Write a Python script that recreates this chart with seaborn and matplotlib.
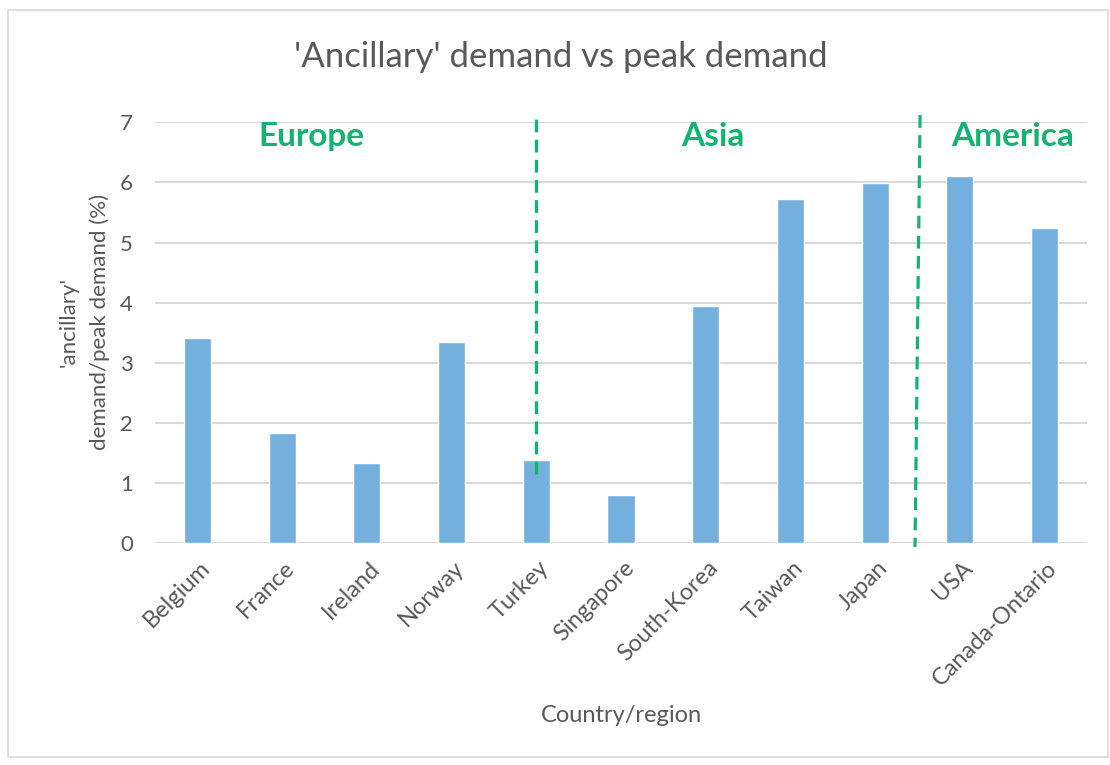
import matplotlib
matplotlib.use("Agg")
import matplotlib.pyplot as plt
import matplotlib.transforms as mtransforms
import seaborn as sns
import pandas as pd
from matplotlib.patches import Rectangle

categories = ["Belgium", "France", "Ireland", "Norway", "Turkey", "Singapore",
              "South-Korea", "Taiwan", "Japan", "USA", "Canada-Ontario"]
values = [3.41, 1.83, 1.34, 3.34, 1.39, 0.80, 3.94, 5.72, 5.99, 6.10, 5.25]
regions = ["Europe", "Asia", "America"]
yticks = [0, 1, 2, 3, 4, 5, 6, 7]

sns.set_theme(style="white")
plt.rcParams['font.family'] = ['Lato', 'DejaVu Sans']

df = pd.DataFrame({"country": categories, "value": values})

fig = plt.figure(figsize=(11.1, 7.65), dpi=100)
ax = fig.add_axes([155/1110, 1-543.3/765, (1087-155)/1110, (543.3-122.3)/765])

grey_txt = "#595959"
grid_c = "#D9D9D9"
bar_c = "#74B0DE"
green = "#13B472"

for t in yticks[1:]:
    ax.axhline(t, color=grid_c, lw=1.5, zorder=0)
ax.axhline(0, color=grid_c, lw=1.5, zorder=0)

sns.barplot(data=df, x="country", y="value", color=bar_c, width=0.32,
            saturation=1, ax=ax, zorder=2)

ax.set_ylim(0, 7)
ax.set_xlim(-0.5, len(categories) - 0.5)
ax.set_yticks(yticks)
ax.set_yticklabels([str(t) for t in yticks], color=grey_txt, fontsize=16)
ax.tick_params(axis='y', length=0, pad=16)
ax.tick_params(axis='x', length=0, pad=10)
ax.set_xticks(range(len(categories)))
ax.set_xticklabels(categories, rotation=45, ha='right', rotation_mode='anchor',
                   color=grey_txt, fontsize=17)
offset = mtransforms.ScaledTranslation(2/100, 0, fig.dpi_scale_trans)
for lab in ax.get_xticklabels():
    lab.set_transform(lab.get_transform() + offset)
for s in ax.spines.values():
    s.set_visible(False)
ax.grid(False)

ax.set_xlabel("Country/region", color=grey_txt, fontsize=17)
ax.xaxis.set_label_coords((621 - 155) / 932, (543.3 - 705) / 421)
ax.set_ylabel("'ancillary'\ndemand/peak demand (%)", color=grey_txt, fontsize=16,
              linespacing=1.65)
ax.yaxis.set_label_coords((110 - 155) / 932, (543.3 - 322) / 421)

# region separators
ax.plot([4, 4], [1.15, 7.17], ls=(0, (4, 2.3)), color=green, lw=2.3,
        clip_on=False, zorder=3)
ax.plot([8.53, 8.47], [7.12, -0.06], ls=(0, (4, 2.3)), color=green, lw=2.3,
        clip_on=False, zorder=3)

# region labels
pos = [(1.35, 6.77), (6.08, 6.77), (9.62, 6.77)]
for name, (x, y) in zip(regions, pos):
    ax.text(x, y, name, color=green, fontsize=24, fontweight='bold',
            ha='center', va='center')

fig.text(561/1110, 1-57/765, "'Ancillary' demand vs peak demand", ha='center',
         va='center', color=grey_txt, fontsize=25)

fig.patches.append(Rectangle((8/1110, 1-757/765), 1100/1110, 747/765,
                             transform=fig.transFigure, fill=False,
                             edgecolor="#D9D9D9", lw=1.2))

fig.savefig("out.png", dpi=100)
